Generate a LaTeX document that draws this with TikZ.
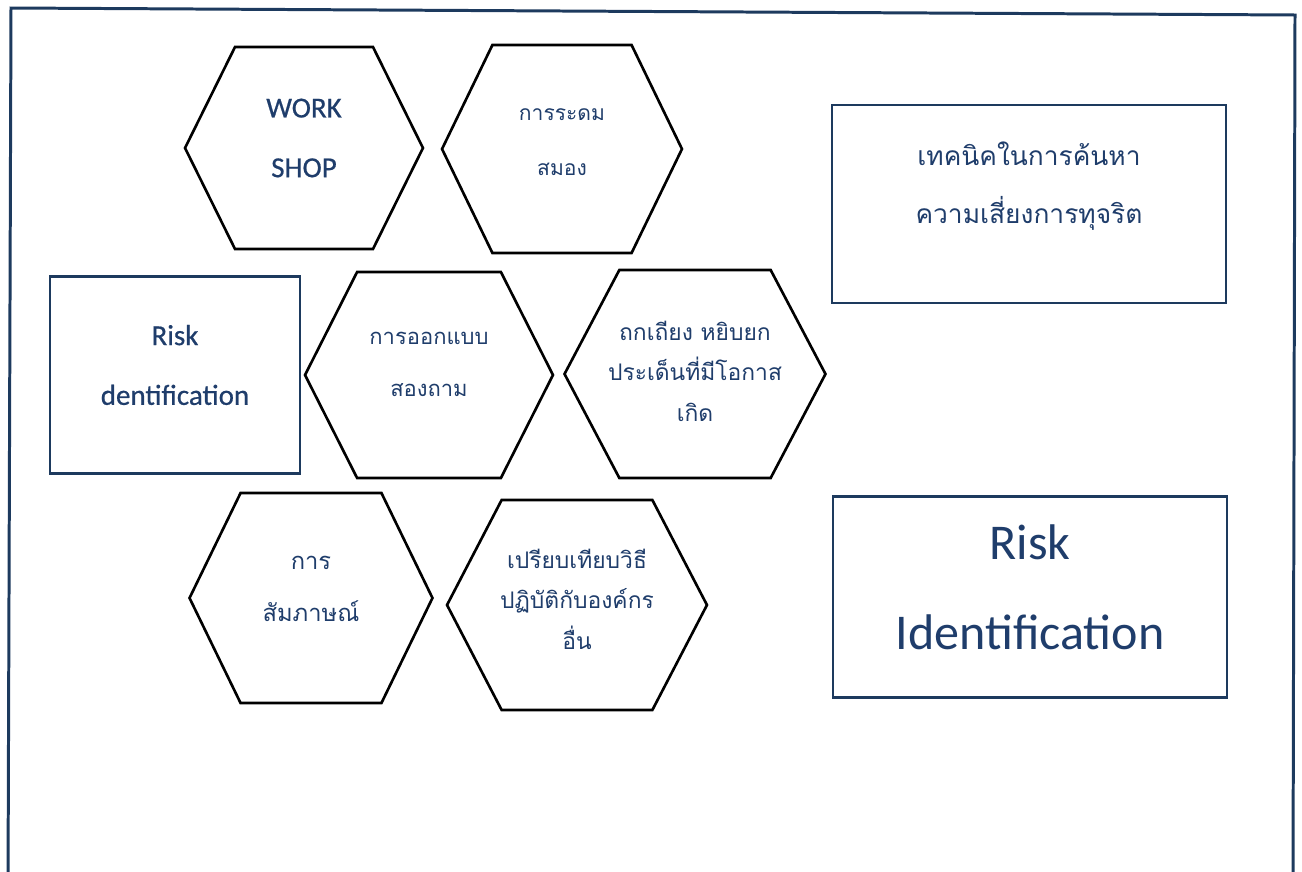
\documentclass[tikz,border=0pt]{standalone}
\usepackage{fontspec}
\setmainfont{Carlito}
\newfontfamily\semifont{Carlito}[FakeBold=0.6]
\newfontfamily\thaifont[Script=Thai]{Loma}
\usepackage{tikz}
\usetikzlibrary{positioning,calc}
\definecolor{inkblue}{HTML}{1F3D6B}
\definecolor{framenavy}{HTML}{1D3A5E}
\newcommand{\latinsize}[2]{\semifont\fontsize{#1}{#2}\selectfont}
\newcommand{\thaisize}[2]{\thaifont\fontsize{#1}{#2}\selectfont}

\begin{document}
\begin{tikzpicture}[x=0.02cm,y=-0.02cm,
    hexcell/.style={inner sep=0pt,outer sep=0pt},
    boxcell/.style={draw=framenavy,line width=1.6pt,inner sep=0pt,outer sep=0pt},
    hexline/.style={draw=black,line width=1.5pt,line join=miter},
    inscr/.style={text=inkblue,align=center,inner sep=0pt}]
    \useasboundingbox (0,0) rectangle (1302,872);
    \draw[framenavy,line width=1.7pt] (8,890) -- (11,8) -- (1295,15) -- (1293,890);

    % hexagons
    \node[hexcell,minimum width=4.76cm,minimum height=4.04cm] (ws) at (304,148) {};
    \node[hexcell,minimum width=4.8cm,minimum height=4.16cm] (bs) at (562,149) {};
    \node[hexcell,minimum width=4.96cm,minimum height=4.12cm] (qs) at (429,375) {};
    \node[hexcell,minimum width=5.22cm,minimum height=4.16cm] (db) at (695,374) {};
    \node[hexcell,minimum width=4.86cm,minimum height=4.2cm] (iv) at (311,598) {};
    \node[hexcell,minimum width=5.2cm,minimum height=4.2cm] (bm) at (577,605) {};
    \foreach \h in {ws,bs,qs,db,iv,bm}
      \draw[hexline] (\h.west) -- ($(\h.north west)!0.21!(\h.north east)$)
        -- ($(\h.north east)!0.21!(\h.north west)$) -- (\h.east)
        -- ($(\h.south east)!0.21!(\h.south west)$)
        -- ($(\h.south west)!0.21!(\h.south east)$) -- cycle;

    % boxes
    \node[boxcell,minimum width=5cm,minimum height=3.94cm] (rid) at (175,375) {};
    \node[boxcell,minimum width=7.88cm,minimum height=3.96cm] (tech) at (1029,204) {};
    \node[boxcell,minimum width=7.88cm,minimum height=4.02cm] (ri) at (1030,597) {};

    % texts
    \node[inscr,font=\latinsize{16.5}{34}] (ws-t) at (304,138) {WORK\\SHOP};
    \node[inscr,font=\thaisize{12}{31}] (bs-t) at (562,142) {การระดม\\สมอง};
    \node[inscr,font=\latinsize{16.5}{34}] (rid-t) at (175,365) {Risk\\dentification};
    \node[inscr,font=\thaisize{12.5}{29.5}] (qs-t) at (429,364) {การออกแบบ\\สองถาม};
    \node[inscr,font=\thaisize{13}{23}] (db-t) at (695,371) {ถกเถียง หยิบยก\\ประเด็นที่มีโอกาส\\เกิด};
    \node[inscr,font=\thaisize{13.5}{29.5}] (iv-t) at (311,589) {การ\\สัมภาษณ์};
    \node[inscr,font=\thaisize{13}{23}] (bm-t) at (577,599) {เปรียบเทียบวิธี\\ปฏิบัติกับองค์กร\\อื่น};
    \node[inscr,font=\thaisize{15}{33}] (tech-t) at (1029,186) {เทคนิคในการค้นหา\\ความเสี่ยงการทุจริต};
    \node[inscr,font=\rmfamily\fontsize{28.5}{51}\selectfont] (ri-t) at (1030,587) {Risk\\Identification};
\end{tikzpicture}
\end{document}
